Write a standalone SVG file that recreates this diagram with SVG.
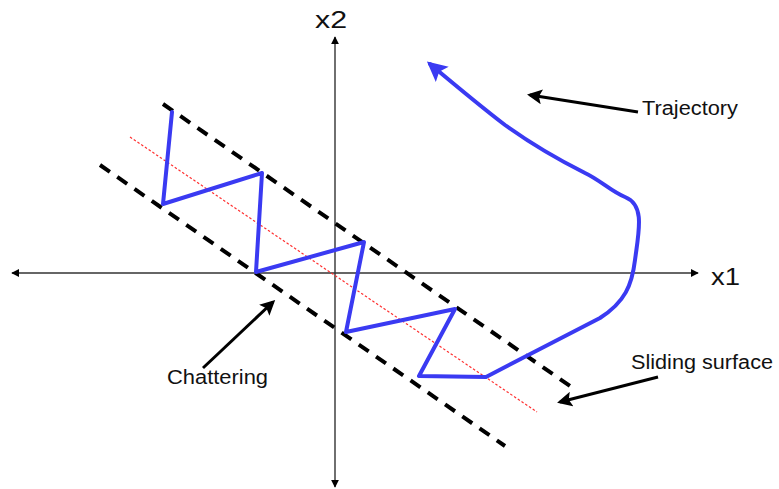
<svg xmlns="http://www.w3.org/2000/svg" width="779" height="489" viewBox="0 0 779 489">
<style>
.axis{stroke:#333;stroke-width:1.4;fill:none}
.dash{stroke:#000;stroke-width:4;stroke-dasharray:12 9;fill:none}
.red{stroke:#ff3030;stroke-width:1.2;stroke-dasharray:2.5 2;fill:none}
.blue{stroke:#3a3af2;stroke-width:4;fill:none;stroke-linejoin:round;stroke-linecap:round}
.ptr{stroke:#000;stroke-width:3;fill:none}
text{font-family:"Liberation Sans",Arial,sans-serif;fill:#111}
</style>
<defs>
<marker id="ah" viewBox="0 0 10 10" refX="9" refY="5" markerWidth="8" markerHeight="8" markerUnits="userSpaceOnUse" orient="auto-start-reverse"><path d="M0,0 L10,5 L0,10 z" fill="#000"/></marker>
<marker id="bh" viewBox="0 0 10 10" refX="8" refY="5" markerWidth="5" markerHeight="5" orient="auto"><path d="M0,0 L10,5 L0,10 L2,5 z" fill="#3a3af2"/></marker>
<marker id="kh" viewBox="0 0 10 10" refX="8" refY="5" markerWidth="5" markerHeight="5" orient="auto"><path d="M0,0 L10,5 L0,10 L2,5 z" fill="#000"/></marker>
</defs>
<rect width="779" height="489" fill="#fff"/>
<g id="axes">
<line class="axis" x1="12" y1="273" x2="698" y2="273" marker-start="url(#ah)" marker-end="url(#ah)"/>
<line class="axis" x1="335" y1="37" x2="335" y2="487" marker-start="url(#ah)" marker-end="url(#ah)"/>
<text x="711" y="285" font-size="23" textLength="29" lengthAdjust="spacingAndGlyphs">x1</text>
<text x="315" y="28" font-size="23" textLength="32" lengthAdjust="spacingAndGlyphs">x2</text>
</g>
<g id="boundaries">
<line class="dash" x1="163" y1="104" x2="570" y2="386"/>
<line class="dash" x1="100" y1="165" x2="505" y2="446"/>
<line class="red" x1="130" y1="137" x2="537" y2="412"/>
</g>
<g id="trajectory">
<path class="blue" d="M172,112 L163,204 L262,173 L256,272 L364,242 L346,332 L455,309 L419,376 L486,377 L600,318 C625,302 632,285 635,260 C639,230 645,205 625,197 C612,192 600,180 585,173 C555,158 530,143 505,125 C480,106 455,85 430,64" marker-end="url(#bh)"/>
</g>
<g id="labels">
<line class="ptr" x1="638" y1="112" x2="530" y2="95" marker-end="url(#kh)"/>
<text x="642" y="115" font-size="20" textLength="96" lengthAdjust="spacingAndGlyphs">Trajectory</text>
<line class="ptr" x1="658" y1="377" x2="560" y2="402" marker-end="url(#kh)"/>
<text x="631" y="369" font-size="20" textLength="142" lengthAdjust="spacingAndGlyphs">Sliding surface</text>
<line class="ptr" x1="203" y1="368" x2="273" y2="302" stroke-width="2" marker-end="url(#kh)"/>
<text x="167" y="384" font-size="20" textLength="101" lengthAdjust="spacingAndGlyphs">Chattering</text>
</g>
</svg>
